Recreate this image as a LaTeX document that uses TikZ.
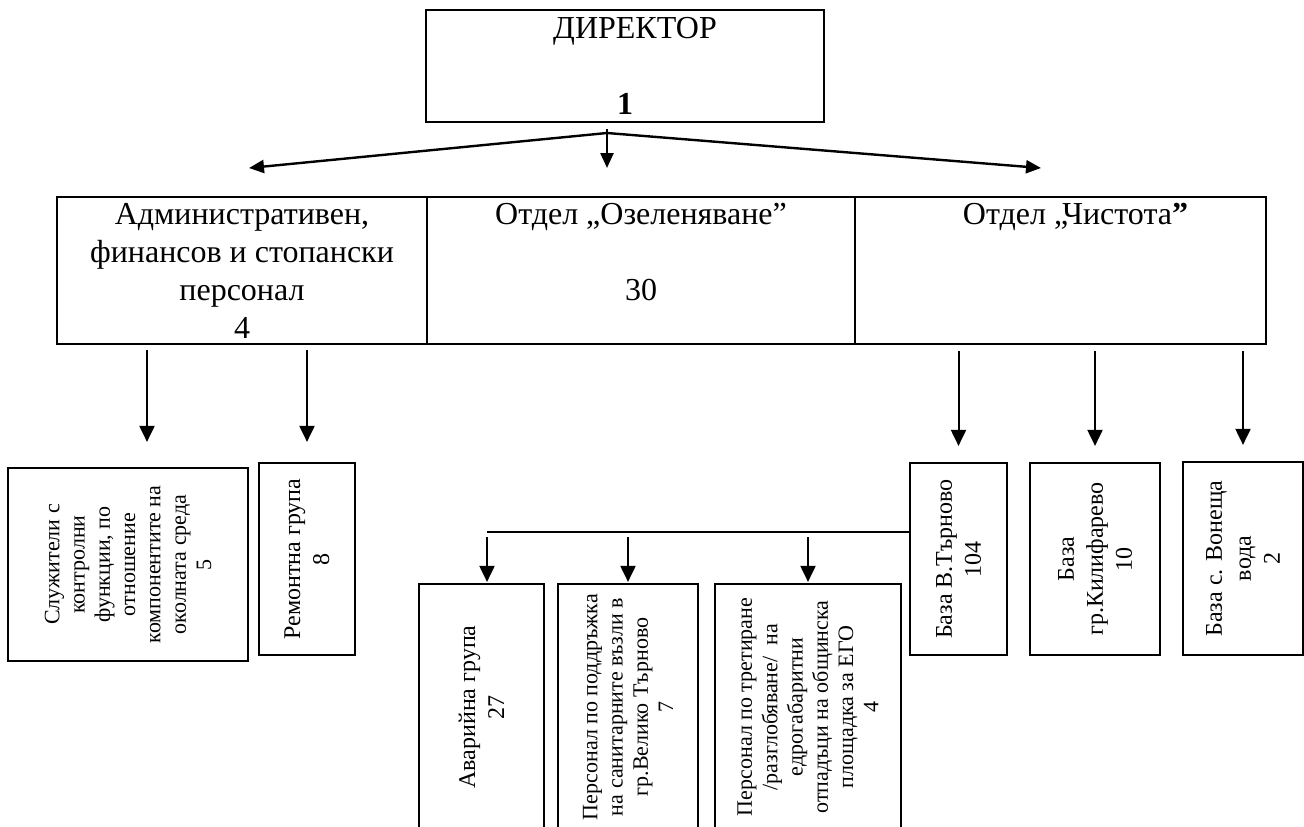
\documentclass[tikz,border=0pt]{standalone}
\usepackage{fontspec}
\setmainfont{Liberation Serif}
\usetikzlibrary{arrows.meta}

\begin{document}
\begin{tikzpicture}[x=1pt,y=1pt,
                  box/.style={draw, line width=2.2pt, align=center},
                  bigtxt/.style={font=\fontsize{32}{38}\selectfont},
                  midtxt/.style={font=\fontsize{24}{29}\selectfont},
                  smalltxt/.style={font=\fontsize{22}{25.3}\selectfont},
                  arr/.style={-{Triangle[width=15pt,length=16pt]}, line width=2pt},
                  toparr/.style={-{Triangle[width=13pt,length=15pt]}, line width=2.4pt}]
                  \tikzstyle{every node}+=[inner sep=0pt]
                  \useasboundingbox (0,0) rectangle (1304,-827);
                  \clip (0,0) rectangle (1304,-827);
                  \node [box, bigtxt, minimum width=398pt, minimum height=112pt] (dir) at (625,-66) {\hspace*{20pt}ДИРЕКТОР\\~\\\textbf{1}};
                  \node [box, bigtxt, minimum width=370pt, minimum height=147pt] (adm) at (242,-270.5) {Административен,\\финансов и стопански\\персонал\\4};
                  \node [box, bigtxt, minimum width=428pt, minimum height=147pt] (ozel) at (641,-270.5) {Отдел „Озеленяване”\\~\\30\\~};
                  \node [box, bigtxt, minimum width=411pt, minimum height=147pt] (chist) at (1060.5,-270.5) {\hspace*{30pt}Отдел „Чистота\textbf{”}\\~\\~\\~};
                  \node [box, smalltxt, rotate=90, minimum width=193pt, minimum height=240pt] (sluzh) at (128,-564.5) {Служители с\\контролни\\функции, по\\отношение\\компонентите на\\околната среда\\5};
                  \node [box, midtxt, rotate=90, minimum width=192pt, minimum height=96pt] (rem) at (307,-559) {Ремонтна група\\8};
                  \node [box, midtxt, rotate=90, minimum width=246pt, minimum height=125pt] (avar) at (481.5,-707) {Аварийна група\\27};
                  \node [box, smalltxt, rotate=90, minimum width=246pt, minimum height=140pt] (sanit) at (628,-707) {Персонал по поддръжка\\на санитарните възли в\\гр.Велико Търново\\7};
                  \node [box, smalltxt, rotate=90, minimum width=246pt, minimum height=186pt] (ego) at (808,-707) {Персонал по третиране\\/разглобяване/\ \ на\\едрогабаритни\\отпадъци на общинска\\площадка за ЕГО\\4};
                  \node [box, midtxt, rotate=90, minimum width=192pt, minimum height=97pt] (bazaT) at (958.5,-559) {База В.Търново\\104};
                  \node [box, midtxt, rotate=90, minimum width=192pt, minimum height=130pt] (bazaK) at (1095,-559) {База\\гр.Килифарево\\10};
                  \node [box, midtxt, rotate=90, minimum width=193pt, minimum height=120pt] (bazaV) at (1243,-558.5) {База с. Вонеща\\вода\\2};
                  \coordinate (fork) at (607,-133);
                  \coordinate (tipL) at (249,-168);
                  \coordinate (tipR) at (1041,-168);
                  \draw [toparr] (fork) -- (tipL);
                  \draw [toparr] (fork) -- (tipR);
                  \draw [toparr, shorten <=6pt] (dir.south -| fork) -- (fork |- tipL);
                  \coordinate (aS) at ([xshift=19pt]sluzh.east);
                  \draw [arr, shorten <=5pt, shorten >=25pt] (adm.south -| aS) -- (aS);
                  \draw [arr, shorten <=5pt, shorten >=20pt] (adm.south -| rem.east) -- (rem.east);
                  \draw [arr, shorten <=6pt, shorten >=16pt] (chist.south -| bazaT.east) -- (bazaT.east);
                  \draw [arr, shorten <=6pt, shorten >=16pt] (chist.south -| bazaK.east) -- (bazaK.east);
                  \draw [arr, shorten <=6pt, shorten >=16pt] (chist.south -| bazaV.east) -- (bazaV.east);
                  \coordinate (br) at (487,-532);
                  \draw [line width=2pt] (br) -- (br -| bazaT.north);
                  \draw [arr, shorten <=5pt, shorten >=1pt] (br) -- (br |- avar.east);
                  \draw [arr, shorten <=5pt, shorten >=1pt] (br -| sanit.east) -- (sanit.east);
                  \draw [arr, shorten <=5pt, shorten >=1pt] (br -| ego.east) -- (ego.east);
              \end{tikzpicture}
\end{document}
